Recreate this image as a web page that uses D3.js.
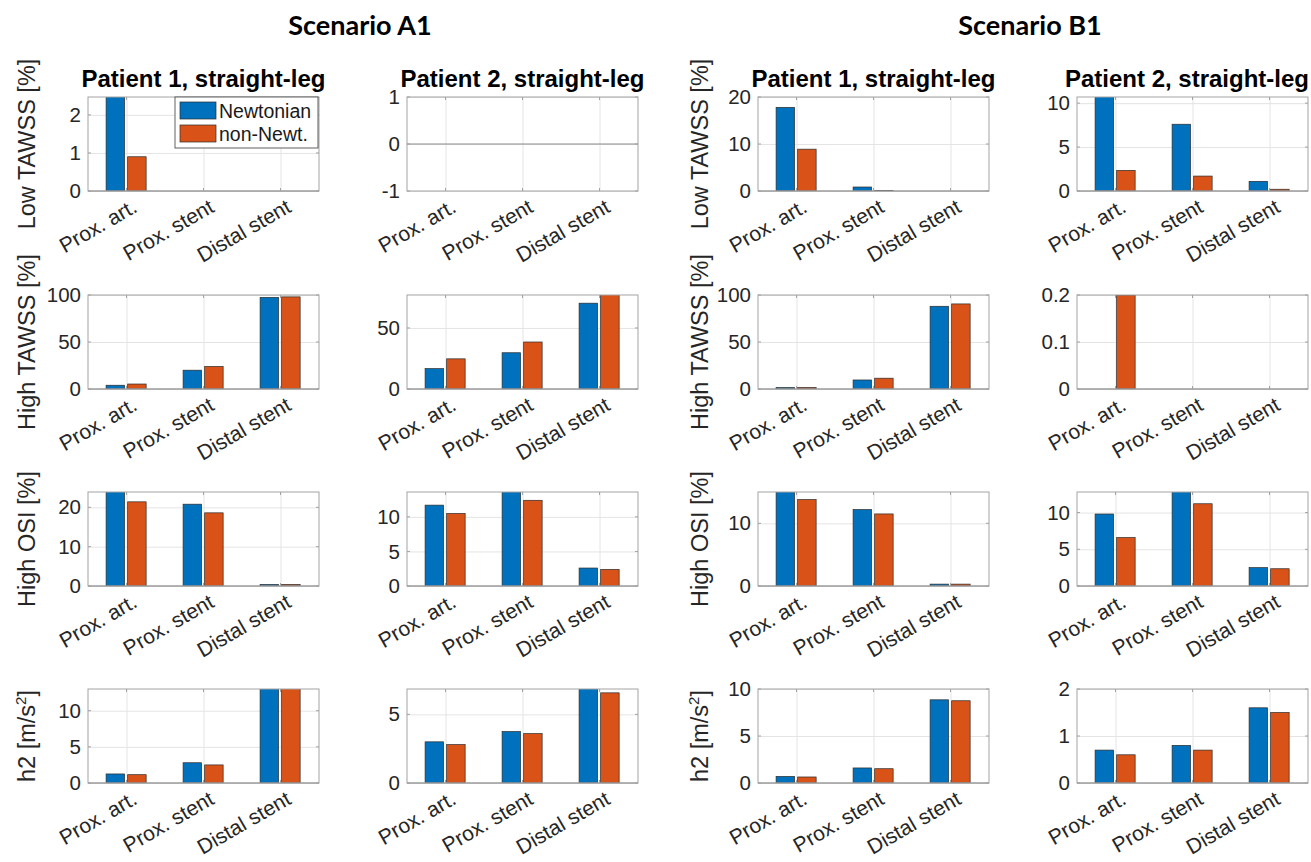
<!DOCTYPE html>
<html>
<head>
<meta charset="utf-8">
<script src="https://cdn.jsdelivr.net/npm/d3@7"></script>
<style>
  body { margin: 0; background: #fff; }
  svg { display: block; }
</style>
</head>
<body>
<div id="chart"></div>
<script>
// categories and series
const categories = ['Prox. art.', 'Prox. stent', 'Distal stent'];
const seriesNames = ['Newtonian', 'non-Newt.'];
const scenarioTitles = ['Scenario A1', 'Scenario B1'];
const panelTitles = ['Patient 1, straight-leg', 'Patient 2, straight-leg', 'Patient 1, straight-leg', 'Patient 2, straight-leg'];
const metricLabels = ['Low TAWSS [%]', 'High TAWSS [%]', 'High OSI [%]', 'h2 [m/s2]'];

// values per panel column: A1-P1, A1-P2, B1-P1, B1-P2
const lowTawssNewt    = [[3.0, 0, 0], [0, 0, 0], [17.8, 0.85, 0], [11.5, 7.6, 1.1]];
const lowTawssNonNewt = [[0.9, 0, 0], [0, 0, 0], [8.9, 0.1, 0], [2.35, 1.7, 0.2]];
const highTawssNewt    = [[4, 20, 97.5], [16.7, 29.7, 70.3], [1.5, 9.6, 88], [0, 0, 0]];
const highTawssNonNewt = [[5.3, 24, 98], [24.7, 38.5, 80], [1.6, 11.5, 90.5], [0.2, 0, 0]];
const highOsiNewt    = [[24.5, 20.8, 0.4], [11.7, 14, 2.6], [15.5, 12.2, 0.3], [9.8, 13, 2.5]];
const highOsiNonNewt = [[21.4, 18.6, 0.4], [10.5, 12.4, 2.4], [13.8, 11.5, 0.3], [6.6, 11.2, 2.35]];
const h2Newt    = [[1.25, 2.8, 13.2], [3.0, 3.75, 6.9], [0.7, 1.6, 8.85], [0.7, 0.8, 1.6]];
const h2NonNewt = [[1.15, 2.5, 13.1], [2.8, 3.6, 6.57], [0.64, 1.52, 8.75], [0.6, 0.7, 1.5]];

// y limits and ticks per row / column
const yLimits = [
  [[0, 2.47], [-1, 1], [0, 20], [0, 10.7]],
  [[0, 100], [0, 77], [0, 100], [0, 0.2]],
  [[0, 23.9], [0, 13.6], [0, 15], [0, 12.8]],
  [[0, 13], [0, 6.85], [0, 10], [0, 2]]
];
const yTicks = [
  [[0, 1, 2], [-1, 0, 1], [0, 10, 20], [0, 5, 10]],
  [[0, 50, 100], [0, 50], [0, 50, 100], [0, 0.1, 0.2]],
  [[0, 10, 20], [0, 5, 10], [0, 10], [0, 5, 10]],
  [[0, 5, 10], [0, 5], [0, 5, 10], [0, 1, 2]]
];

const newtRows = [lowTawssNewt, highTawssNewt, highOsiNewt, h2Newt];
const nonNewtRows = [lowTawssNonNewt, highTawssNonNewt, highOsiNonNewt, h2NonNewt];

const colors = ['#0072BD', '#D95319'];
const W = 1311, H = 862;
const colX = [88, 407, 758, 1077];
const rowY = [97, 295, 492, 689];
const boxW = 231, boxH = 94;
const barOffsets = [-0.145, 0.135];
const barWidth = 0.24;
const axisFont = '"Liberation Sans", Arial, Helvetica, sans-serif';

const svg = d3.select('#chart').append('svg')
  .attr('width', W)
  .attr('height', H);

// scenario headings
svg.selectAll('text.scenario')
  .data(scenarioTitles)
  .join('text')
  .attr('class', 'scenario')
  .attr('x', (d, i) => i === 0 ? 360 : 1030)
  .attr('y', 35)
  .attr('text-anchor', 'middle')
  .style('font-family', 'Lato, "Open Sans", sans-serif')
  .style('font-weight', 700)
  .style('font-size', '27px')
  .text(d => d);

function drawPanel(r, c) {
  const x0 = colX[c], y0 = rowY[r];
  const x = d3.scaleLinear().domain([0.5, 3.5]).range([x0, x0 + boxW]);
  const y = d3.scaleLinear().domain(yLimits[r][c]).range([y0 + boxH, y0]);
  const ticks = yTicks[r][c];
  const g = svg.append('g').attr('class', `panel-${r}-${c}`);

  const clipId = `clip-${r}-${c}`;
  g.append('clipPath').attr('id', clipId)
    .append('rect')
    .attr('x', x0).attr('y', y0)
    .attr('width', boxW).attr('height', boxH);

  // gridlines
  const gy = g.append('g')
    .attr('transform', `translate(${x0},0)`)
    .call(d3.axisLeft(y).tickValues(ticks).tickSize(-boxW).tickFormat(''));
  const gx = g.append('g')
    .attr('transform', `translate(0,${y0})`)
    .call(d3.axisBottom(x).tickValues([1, 2, 3]).tickSize(boxH).tickFormat(''));
  [gy, gx].forEach(a => {
    a.select('.domain').remove();
    a.selectAll('line').attr('stroke', '#e4e4e4');
  });

  // bars
  const series = [newtRows[r][c], nonNewtRows[r][c]];
  const bars = g.append('g').attr('clip-path', `url(#${clipId})`);
  series.forEach((vals, s) => {
    bars.selectAll(`rect.s${s}`)
      .data(vals)
      .join('rect')
      .attr('class', `s${s}`)
      .attr('x', (d, i) => x(i + 1 + barOffsets[s] - barWidth / 2))
      .attr('width', x(barWidth) - x(0))
      .attr('y', d => Math.min(y(d), y(0)))
      .attr('height', d => Math.abs(y(d) - y(0)))
      .attr('fill', colors[s])
      .attr('stroke', '#2b2b2b')
      .attr('stroke-width', 0.7);
  });

  // baseline
  g.append('line')
    .attr('x1', x0).attr('x2', x0 + boxW)
    .attr('y1', y(0)).attr('y2', y(0))
    .attr('stroke', '#8a8a8a')
    .attr('stroke-width', 1);

  // box
  g.append('rect')
    .attr('x', x0).attr('y', y0)
    .attr('width', boxW).attr('height', boxH)
    .attr('fill', 'none')
    .attr('stroke', '#a3a3a3')
    .attr('stroke-width', 1);

  // small inward ticks
  const tk = g.append('g').attr('stroke', '#a3a3a3');
  ticks.forEach(t => {
    tk.append('line').attr('x1', x0).attr('x2', x0 + 3).attr('y1', y(t)).attr('y2', y(t));
    tk.append('line').attr('x1', x0 + boxW - 3).attr('x2', x0 + boxW).attr('y1', y(t)).attr('y2', y(t));
  });
  [1, 2, 3].forEach(t => {
    tk.append('line').attr('x1', x(t)).attr('x2', x(t)).attr('y1', y0 + boxH).attr('y2', y0 + boxH - 3);
    tk.append('line').attr('x1', x(t)).attr('x2', x(t)).attr('y1', y0).attr('y2', y0 + 3);
  });

  // y tick labels
  const ya = g.append('g')
    .attr('transform', `translate(${x0},0)`)
    .call(d3.axisLeft(y).tickValues(ticks).tickSize(0).tickPadding(7).tickFormat(d => String(d)));
  ya.select('.domain').remove();
  ya.attr('font-family', axisFont).attr('font-size', 20.5);
  ya.selectAll('text').attr('fill', '#262626');

  // rotated category labels
  g.selectAll('text.cat')
    .data(categories)
    .join('text')
    .attr('class', 'cat')
    .attr('transform', (d, i) => `translate(${x(i + 1) + 12},${y0 + boxH + 20}) rotate(-30)`)
    .attr('text-anchor', 'end')
    .style('font-family', axisFont)
    .style('font-size', '21px')
    .attr('fill', '#262626')
    .text(d => d);

  // panel title, kept inside the page on the right
  if (r === 0) {
    const title = g.append('text')
      .attr('x', x0 + boxW / 2)
      .attr('y', 87)
      .attr('text-anchor', 'middle')
      .style('font-family', axisFont)
      .style('font-weight', 700)
      .style('font-size', '24px')
      .text(panelTitles[c]);
    const len = title.node().getComputedTextLength();
    const right = x0 + boxW / 2 + len / 2;
    if (right > W - 2) title.attr('x', W - 2 - len / 2);
  }

  // y label on first column of each scenario
  if (c === 0 || c === 2) {
    const lx = c === 0 ? 35 : 708;
    const ly = y0 + boxH / 2;
    const t = g.append('text')
      .attr('transform', `translate(${lx},${ly}) rotate(-90)`)
      .attr('text-anchor', 'middle')
      .style('font-family', axisFont)
      .style('font-size', '23.5px')
      .attr('fill', '#262626');
    const label = metricLabels[r];
    if (label.endsWith('2]')) {
      t.append('tspan').text(label.slice(0, -2));
      t.append('tspan').attr('dy', -9).style('font-size', '15px').text('2');
      t.append('tspan').attr('dy', 9).text(']');
    } else {
      t.text(label);
    }
  }
}

for (let r = 0; r < 4; r++) {
  for (let c = 0; c < 4; c++) {
    drawPanel(r, c);
  }
}

// legend in the first panel
const legend = svg.append('g').attr('class', 'legend');
legend.append('rect')
  .attr('x', 175).attr('y', 97)
  .attr('width', 143).attr('height', 51)
  .attr('fill', '#fff')
  .attr('stroke', '#3a3a3a')
  .attr('stroke-width', 0.8);
seriesNames.forEach((name, i) => {
  legend.append('rect')
    .attr('x', 180).attr('y', 102 + i * 23)
    .attr('width', 36).attr('height', 17)
    .attr('fill', colors[i])
    .attr('stroke', '#2b2b2b')
    .attr('stroke-width', 0.7);
  legend.append('text')
    .attr('x', 219).attr('y', 110.5 + i * 23)
    .attr('dominant-baseline', 'central')
    .style('font-family', axisFont)
    .style('font-size', '19.5px')
    .attr('fill', '#1a1a1a')
    .text(name);
});
</script>
</body>
</html>
